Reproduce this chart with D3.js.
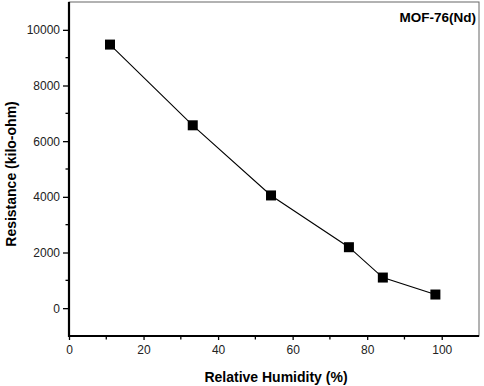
<!DOCTYPE html>
<html><head><meta charset="utf-8">
<script src="https://cdn.jsdelivr.net/npm/d3@7"></script>
<style>body{margin:0;background:#fff}svg{display:block}</style>
</head><body>
<script>
const humidity = [11, 33.2, 54.2, 75.1, 84.2, 98.3];
const resistance = [9470, 6570, 4050, 2190, 1100, 490];
const xTicks = [0, 20, 40, 60, 80, 100];
const yTicks = [0, 2000, 4000, 6000, 8000, 10000];
const title = "MOF-76(Nd)";
const xTitle = "Relative Humidity (%)";
const yTitle = "Resistance (kilo-ohm)";

const W = 484, H = 386;
const L = 69, R = 479, T = 2, B = 336;
const svg = d3.select("body").append("svg").attr("width", W).attr("height", H);
const x = d3.scaleLinear().domain([0, 110]).range([L, R]);
const y = d3.scaleLinear().domain([-1000, 11000]).range([B, T]);

svg.append("rect").attr("x", L).attr("y", T).attr("width", R - L).attr("height", B - T)
  .attr("fill", "none").attr("stroke", "#666").attr("stroke-width", 1);

const font = "'Liberation Sans', Arial, sans-serif";

const xMinor = d3.range(10, 110, 20);
const yMinor = d3.range(1000, 11000, 2000);
svg.append("g").selectAll("line").data(xMinor).join("line")
  .attr("x1", d => x(d)).attr("x2", d => x(d)).attr("y1", B).attr("y2", B + 3.5)
  .attr("stroke", "#000").attr("stroke-width", 1.3);
svg.append("g").selectAll("line").data(yMinor).join("line")
  .attr("y1", d => y(d)).attr("y2", d => y(d)).attr("x1", L).attr("x2", L - 3.5)
  .attr("stroke", "#000").attr("stroke-width", 1.3);

const xAxis = svg.append("g").attr("transform", `translate(0,${B})`)
  .call(d3.axisBottom(x).tickValues(xTicks).tickFormat(d3.format("d")).tickSize(4).tickPadding(5).tickSizeOuter(0));
const yAxis = svg.append("g").attr("transform", `translate(${L},0)`)
  .call(d3.axisLeft(y).tickValues(yTicks).tickFormat(d3.format("d")).tickSize(6).tickPadding(3).tickSizeOuter(0));
[xAxis, yAxis].forEach(a => {
  a.select(".domain").attr("stroke", "#000").attr("stroke-width", 2.2);
  a.selectAll(".tick line").attr("stroke", "#000").attr("stroke-width", 1.3);
  a.selectAll(".tick text").attr("font-family", font).attr("font-size", 12).attr("fill", "#222");
});
xAxis.select(".domain").attr("d", `M${L - 1},0H${R}`);
yAxis.select(".domain").attr("d", `M0,${B + 1}V${T}`);

svg.append("path").datum(humidity.map((h, i) => [h, resistance[i]]))
  .attr("fill", "none").attr("stroke", "#000").attr("stroke-width", 1.1)
  .attr("d", d3.line().x(d => x(d[0])).y(d => y(d[1])));

const s = 10;
svg.append("g").selectAll("rect").data(humidity.map((h, i) => [h, resistance[i]])).join("rect")
  .attr("x", d => x(d[0]) - s / 2).attr("y", d => y(d[1]) - s / 2)
  .attr("width", s).attr("height", s).attr("fill", "#000");

svg.append("text").attr("x", 476).attr("y", 22).attr("text-anchor", "end")
  .attr("font-family", font).attr("font-weight", "bold").attr("font-size", 13.5).text(title);

svg.append("text").attr("x", 276).attr("y", 382).attr("text-anchor", "middle")
  .attr("font-family", font).attr("font-weight", "bold").attr("font-size", 14).text(xTitle);
svg.append("text").attr("transform", "translate(16,174) rotate(-90)").attr("text-anchor", "middle")
  .attr("font-family", font).attr("font-weight", "bold").attr("font-size", 14).text(yTitle);
</script>
</body></html>
